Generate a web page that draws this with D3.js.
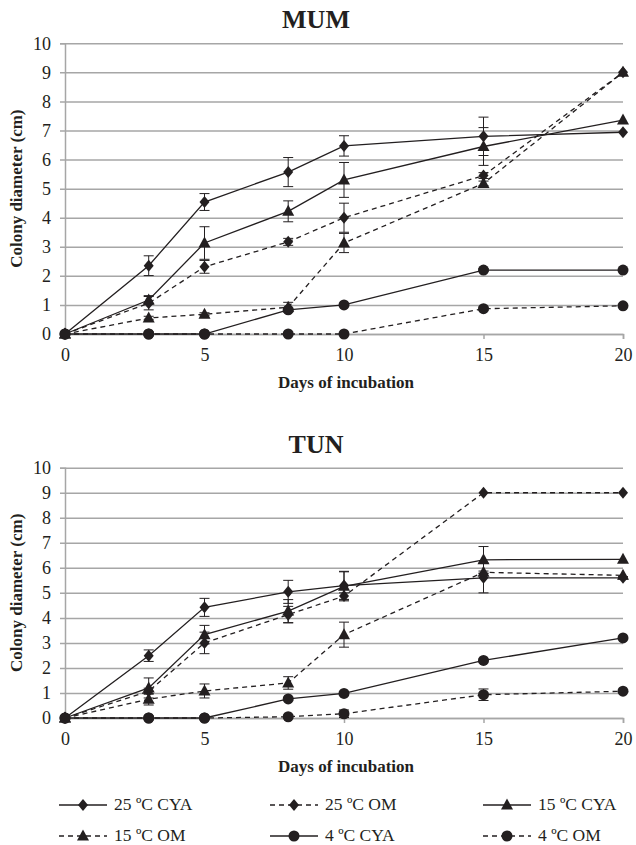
<!DOCTYPE html>
<html>
<head>
<meta charset="utf-8">
<script src="https://cdn.jsdelivr.net/npm/d3@7"></script>
<style>
  body { margin: 0; background: #fff; }
  svg { display: block; font-family: "Liberation Serif", "Times New Roman", serif; }
</style>
</head>
<body>
<svg id="chart" width="636" height="845"></svg>
<script>
// days on the x axis
const days = [0, 3, 5, 8, 10, 15, 20];
const xTicks = [0, 5, 10, 15, 20];
const yTicks = [0, 1, 2, 3, 4, 5, 6, 7, 8, 9, 10];

const seriesNames = ["25 ºC CYA", "25 ºC OM", "15 ºC CYA", "15 ºC OM", "4 ºC CYA", "4 ºC OM"];

// MUM
const mum25cya = [0, 2.35, 4.54, 5.57, 6.47, 6.80, 6.94];
const mum25om  = [0, 1.06, 2.31, 3.17, 4.00, 5.45, 9.00];
const mum15cya = [0, 1.17, 3.13, 4.22, 5.30, 6.45, 7.36];
const mum15om  = [0, 0.55, 0.68, 0.92, 3.13, 5.18, 9.00];
const mum4cya  = [0, 0, 0, 0.83, 1.00, 2.20, 2.20];
const mum4om   = [0, 0, 0, 0, 0, 0.87, 0.97];

const mum25cyaErr = [0, 0.34, 0.29, 0.50, 0.35, 0.66, 0];
const mum25omErr  = [0, 0.23, 0.22, 0.12, 0.50, 0.10, 0];
const mum15cyaErr = [0, 0.15, 0.56, 0.36, 0.60, 0.65, 0];
const mum15omErr  = [0, 0.06, 0.05, 0.17, 0.33, 0.08, 0];
const mum4cyaErr  = [0, 0, 0, 0.05, 0.05, 0.05, 0];
const mum4omErr   = [0, 0, 0, 0, 0, 0.05, 0];

// TUN
const tun25cya = [0, 2.49, 4.42, 5.04, 5.29, 5.60, 5.60];
const tun25om  = [0, 1.07, 3.00, 4.13, 4.87, 9.00, 9.00];
const tun15cya = [0, 1.20, 3.33, 4.27, 5.26, 6.32, 6.34];
const tun15om  = [0, 0.75, 1.08, 1.40, 3.33, 5.82, 5.70];
const tun4cya  = [0, 0, 0, 0.76, 0.98, 2.30, 3.20];
const tun4om   = [0, 0, 0, 0.05, 0.17, 0.93, 1.07];

const tun25cyaErr = [0, 0.23, 0.36, 0.46, 0.57, 0.60, 0.05];
const tun25omErr  = [0, 0.12, 0.43, 0.33, 0.13, 0, 0];
const tun15cyaErr = [0, 0.40, 0.37, 0.46, 0.58, 0.53, 0];
const tun15omErr  = [0, 0.23, 0.28, 0.25, 0.50, 0.05, 0];
const tun4cyaErr  = [0, 0, 0, 0.05, 0.05, 0.05, 0];
const tun4omErr   = [0, 0, 0, 0.05, 0.15, 0.23, 0];

const markers = ["diamond", "diamond", "triangle", "triangle", "circle", "circle"];
const dashed = [false, true, false, true, false, true];

const ink = "#231f20";
const gridColor = "#a6a6a6";

const svg = d3.select("#chart");

function markerPath(type) {
  if (type == "diamond") return "M0,-6L5,0L0,6L-5,0Z";
  if (type == "triangle") return "M0,-6.5L6,4.5L-6,4.5Z";
  return d3.symbol(d3.symbolCircle, Math.PI * 5.5 * 5.5)();
}

function drawPanel(title, top, bottom, values, errs) {
  const x = d3.scaleLinear().domain([0, 20]).range([65, 623]);
  const y = d3.scaleLinear().domain([0, 10]).range([bottom, top]);
  const g = svg.append("g");

  // y axis, tick lines stretched into gridlines
  const yAxis = g.append("g")
    .attr("transform", `translate(${x(0)},0)`)
    .call(d3.axisLeft(y).tickValues(yTicks).tickSize(5).tickPadding(9));
  yAxis.selectAll(".tick line").attr("x1", x(20) - x(0)).attr("stroke", gridColor).attr("stroke-width", 1.5);
  yAxis.select(".domain").attr("stroke", gridColor).attr("stroke-width", 1.5);
  yAxis.selectAll("text").attr("fill", ink).style("font-size", "18px").style("font-family", "Liberation Serif");

  const xAxis = g.append("g")
    .attr("transform", `translate(0,${y(0)})`)
    .call(d3.axisBottom(x).tickValues(xTicks).tickSize(5).tickPadding(9));
  xAxis.selectAll(".tick line").attr("stroke", gridColor).attr("stroke-width", 1.5);
  xAxis.select(".domain").attr("stroke", gridColor).attr("stroke-width", 1.5);
  xAxis.selectAll("text").attr("fill", ink).style("font-size", "18px").style("font-family", "Liberation Serif");

  g.append("text")
    .attr("x", 316).attr("y", top - 15)
    .attr("text-anchor", "middle")
    .attr("font-weight", "bold").attr("font-size", 26).attr("fill", ink)
    .text(title);

  g.append("text")
    .attr("transform", `translate(22,${(top + bottom) / 2}) rotate(-90)`)
    .attr("text-anchor", "middle")
    .attr("font-weight", "bold").attr("font-size", 17).attr("fill", ink)
    .text("Colony diameter (cm)");

  g.append("text")
    .attr("x", 346).attr("y", bottom + 54)
    .attr("text-anchor", "middle")
    .attr("font-weight", "bold").attr("font-size", 17).attr("fill", ink)
    .text("Days of incubation");

  const line = d3.line().x(d => x(d[0])).y(d => y(d[1]));

  values.forEach((vals, i) => {
    const pts = days.map((d, j) => [d, vals[j], errs[i][j]]);
    const s = g.append("g");

    s.append("path")
      .attr("d", line(pts))
      .attr("fill", "none").attr("stroke", ink).attr("stroke-width", 1.3)
      .attr("stroke-dasharray", dashed[i] ? "5,4" : null);

    const eb = s.selectAll(".err").data(pts.filter(p => p[2] > 0)).enter().append("g");
    eb.append("line")
      .attr("x1", p => x(p[0])).attr("x2", p => x(p[0]))
      .attr("y1", p => y(p[1] - p[2])).attr("y2", p => y(p[1] + p[2]))
      .attr("stroke", ink).attr("stroke-width", 1);
    [-1, 1].forEach(sign => {
      eb.append("line")
        .attr("x1", p => x(p[0]) - 5).attr("x2", p => x(p[0]) + 5)
        .attr("y1", p => y(p[1] + sign * p[2])).attr("y2", p => y(p[1] + sign * p[2]))
        .attr("stroke", ink).attr("stroke-width", 1);
    });

    s.selectAll(".pt").data(pts).enter().append("path")
      .attr("d", markerPath(markers[i]))
      .attr("transform", p => `translate(${x(p[0])},${y(p[1])})`)
      .attr("fill", ink);
  });
}

drawPanel("MUM", 43.3, 334,
  [mum25cya, mum25om, mum15cya, mum15om, mum4cya, mum4om],
  [mum25cyaErr, mum25omErr, mum15cyaErr, mum15omErr, mum4cyaErr, mum4omErr]);

drawPanel("TUN", 467.7, 718,
  [tun25cya, tun25om, tun15cya, tun15om, tun4cya, tun4om],
  [tun25cyaErr, tun25omErr, tun15cyaErr, tun15omErr, tun4cyaErr, tun4omErr]);

// legend
const legX = [59, 270, 483];
const legY = [805, 836];
const legend = svg.append("g");
seriesNames.forEach((name, i) => {
  const lx = legX[i % 3], ly = legY[Math.floor(i / 3)];
  const item = legend.append("g").attr("transform", `translate(${lx},${ly})`);
  item.append("line")
    .attr("x1", 0).attr("x2", 48).attr("y1", 0).attr("y2", 0)
    .attr("stroke", ink).attr("stroke-width", 1.3)
    .attr("stroke-dasharray", dashed[i] ? "5,4" : null);
  item.append("path")
    .attr("d", markerPath(markers[i]))
    .attr("transform", "translate(24,0)")
    .attr("fill", ink);
  item.append("text")
    .attr("x", 55).attr("y", 5)
    .attr("font-size", 17.5).attr("fill", ink)
    .text(name);
});
</script>
</body>
</html>
